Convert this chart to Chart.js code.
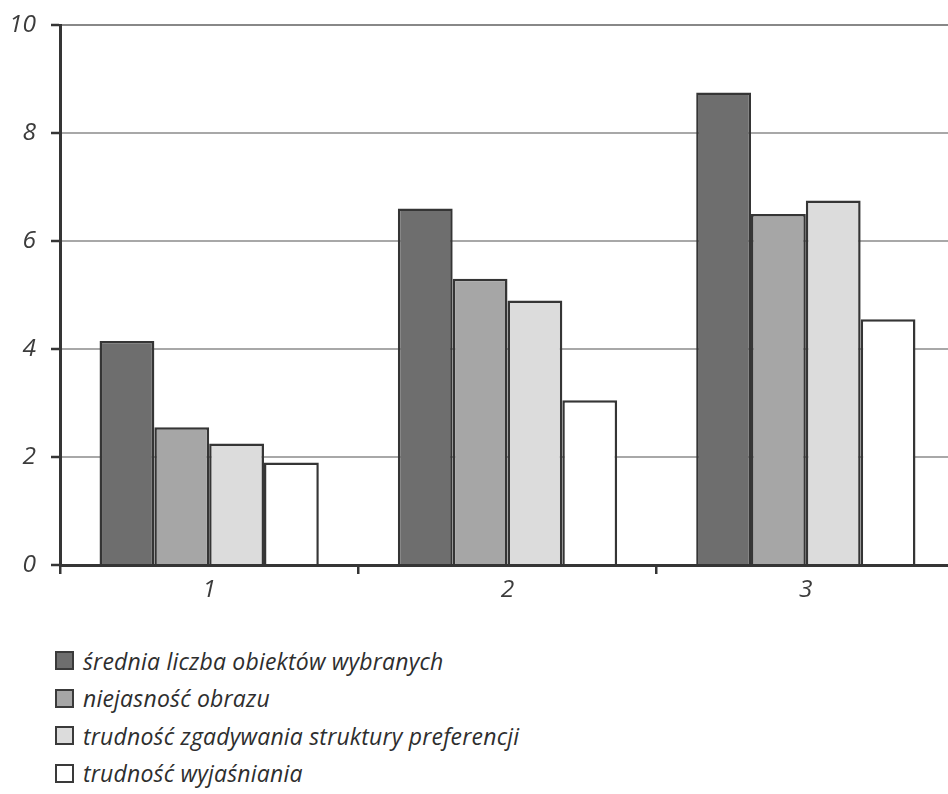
<!DOCTYPE html>
<html>
<head>
<meta charset="utf-8">
<script src="https://cdn.jsdelivr.net/npm/chart.js@4/dist/chart.umd.min.js"></script>
<style>
  html, body { margin: 0; padding: 0; background: #fff; overflow: hidden; width: 948px; height: 794px; }
  #wrap { position: absolute; left: 0; top: 0; width: 960px; height: 610px; }
  #legend { position: absolute; left: 55px; top: 642px; font-family: "Open Sans", "Noto Sans", sans-serif; font-style: italic; font-size: 23px; color: #2e2e2e; letter-spacing: 0.2px; }
  .item { display: flex; align-items: center; height: 37.5px; }
  .box { width: 19px; height: 19px; border: 2.5px solid #3a3a3a; margin-right: 9px; box-sizing: border-box; }
</style>
</head>
<body>
<div id="wrap"><canvas id="c" width="960" height="610"></canvas></div>
<div id="legend"></div>
<script>
const categories = ['1', '2', '3'];
const seriesNames = [
  'średnia liczba obiektów wybranych',
  'niejasność obrazu',
  'trudność zgadywania struktury preferencji',
  'trudność wyjaśniania'
];
const sredniaLiczba = [4.15, 6.6, 8.75];
const niejasnosc = [2.55, 5.3, 6.5];
const trudnoscZgadywania = [2.25, 4.9, 6.75];
const trudnoscWyjasniania = [1.9, 3.05, 4.55];
const yTicks = [0, 2, 4, 6, 8, 10];

const fills = ['#6e6e6e', '#a6a6a6', '#dcdcdc', '#ffffff'];
const values = [sredniaLiczba, niejasnosc, trudnoscZgadywania, trudnoscWyjasniania];

const datasets = values.map((v, i) => ({
  label: seriesNames[i],
  data: v,
  backgroundColor: fills[i],
  borderColor: '#353535',
  borderWidth: 2.5,
  barPercentage: 1,
  categoryPercentage: 0.735
}));

const fontFamily = '"Open Sans", "Noto Sans", sans-serif';
const xTickFont = { family: fontFamily, style: 'italic', size: 24.5 };
// tight line height so the top label does not push the plot area down
const yTickFont = { family: fontFamily, style: 'italic', size: 24.5, lineHeight: 0.6 };

new Chart(document.getElementById('c'), {
  type: 'bar',
  data: { labels: categories, datasets },
  options: {
    responsive: false,
    animation: false,
    layout: { padding: { top: 25, right: 5, left: 0, bottom: 0 } },
    plugins: { legend: { display: false }, tooltip: { enabled: false } },
    scales: {
      x: {
        offset: true,
        grid: { offset: true, drawOnChartArea: false, drawTicks: true, tickLength: 9, color: '#353535', lineWidth: 2.5 },
        border: { display: true, color: '#353535', width: 3 },
        ticks: { color: '#3c3c3c', font: xTickFont, padding: 1 },
        afterFit: s => { s.height = 45; }
      },
      y: {
        min: 0, max: 10,
        afterBuildTicks: s => { s.ticks = yTicks.map(v => ({ value: v })); },
        grid: {
          drawTicks: true, tickLength: 9,
          color: c => c.tick && c.tick.value === 10 ? '#888888' : '#a8a8a8',
          lineWidth: 2,
          tickColor: '#353535', tickWidth: 2.5
        },
        border: { display: true, color: '#353535', width: 3 },
        ticks: { color: '#3c3c3c', font: yTickFont, padding: 15 },
        afterFit: s => { s.width = 60; }
      }
    }
  }
});

const legend = document.getElementById('legend');
seriesNames.forEach((name, i) => {
  const row = document.createElement('div');
  row.className = 'item';
  const box = document.createElement('span');
  box.className = 'box';
  box.style.background = fills[i];
  const txt = document.createElement('span');
  txt.textContent = name;
  row.appendChild(box);
  row.appendChild(txt);
  legend.appendChild(row);
});
</script>
</body>
</html>
